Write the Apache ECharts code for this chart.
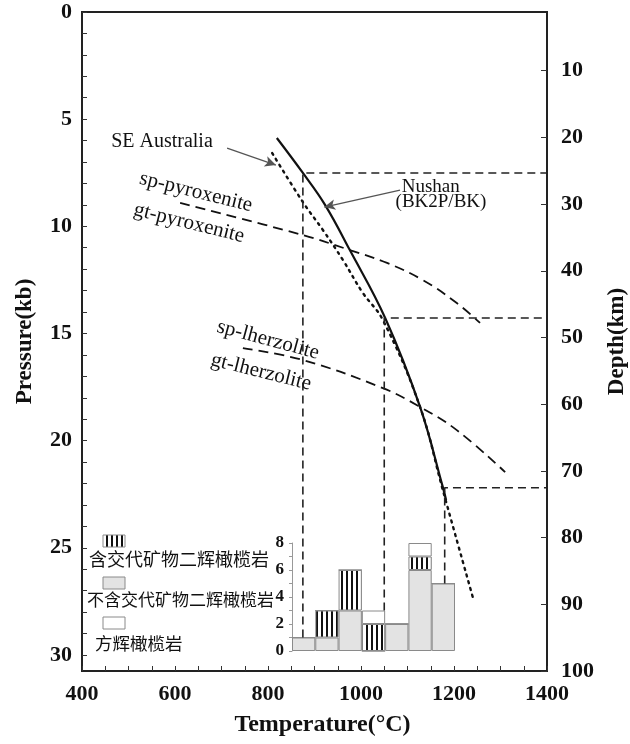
<!DOCTYPE html>
<html>
<head>
<meta charset="utf-8">
<script src="https://cdn.jsdelivr.net/npm/echarts@6/dist/echarts.min.js"></script>
<style>
  html, body { margin: 0; padding: 0; background: #fff; }
  #chart { width: 630px; height: 744px; }
</style>
</head>
<body>
<div id="chart"></div>
<script>
// ---- Geotherms (temperature °C, pressure kb) ----
const nushanT = [819, 875, 923, 976, 1052, 1127, 1176, 1183];
const nushanP = [5.88, 7.51, 9.01, 11.11, 14.28, 18.43, 22.17, 22.77];

const seAusT = [809, 875, 918, 961, 1004, 1047, 1127, 1176, 1241];
const seAusP = [6.58, 8.87, 10.17, 11.57, 13.11, 14.37, 18.43, 22.31, 27.35];

// ---- Phase boundaries ----
const pyroxeniteT = [611, 875, 976, 1056, 1133, 1206, 1256];
const pyroxeniteP = [8.91, 10.41, 11.11, 11.71, 12.51, 13.58, 14.51];

const lherzoliteT = [746, 875, 1047, 1127, 1206, 1310];
const lherzoliteP = [15.68, 16.24, 17.55, 18.43, 19.51, 21.47];

// ---- Xenolith temperature histogram (50 °C bins) ----
const binLabels = ['850-900', '900-950', '950-1000', '1000-1050', '1050-1100', '1100-1150', '1150-1200'];
const rockTypes = ['含交代矿物二辉橄榄岩', '不含交代矿物二辉橄榄岩', '方辉橄榄岩'];
const countMetasomatised = [0, 2, 3, 2, 0, 1, 0];
const countLherzolite    = [1, 1, 3, 0, 2, 6, 5];
const countHarzburgite   = [0, 0, 0, 1, 0, 1, 0];

// ---- Tie lines from the geotherm down to the histogram ----
const tieT = [875, 1050, 1180];
const tieP = [7.51, 14.28, 22.2];
const tieBin = [0, 3, 6];

// ---- Axis tick labels ----
const tempLabels = [400, 600, 800, 1000, 1200, 1400];
const pressureLabels = [0, 5, 10, 15, 20, 25, 30];
const depthLabels = [10, 20, 30, 40, 50, 60, 70, 80, 90, 100];
const countLabels = [0, 2, 4, 6, 8];

// ---- Annotations ----
const curveNames = ['sp-pyroxenite', 'gt-pyroxenite', 'sp-lherzolite', 'gt-lherzolite'];
const curveNameAt = [[645, 8.4], [630, 9.85], [800, 15.3], [785, 16.8]];
const curveNameRot = [-14, -14, -15, -14];

const serif = '"Liberation Serif", "Times New Roman", serif';
const cjk = '"Noto Sans CJK SC", sans-serif';

const range = (a, b, s) => { const r = []; for (let v = a; v <= b + 1e-9; v += s) r.push(v); return r; };
const zip = (xs, ys) => xs.map((x, i) => [x, ys[i]]);
const plain = v => String(v);

function hatchCanvas() {
  const c = document.createElement('canvas');
  c.width = 5; c.height = 4;
  const g = c.getContext('2d');
  g.fillStyle = '#ffffff'; g.fillRect(0, 0, 5, 4);
  g.fillStyle = '#111111'; g.fillRect(1, 0, 2, 4);
  return c;
}
const hatchFill = { image: hatchCanvas(), repeat: 'repeat' };
const grayFill = '#e3e3e3';
const barBorder = '#8a8a8a';

const tickLabelStyle = { fontFamily: serif, fontWeight: 'bold', fontSize: 22, color: '#111', formatter: plain };
const nameStyle = { fontFamily: serif, fontWeight: 'bold', fontSize: 23, color: '#111' };

const chart = echarts.init(document.getElementById('chart'), null, { renderer: 'canvas' });

const option = {
  animation: false,
  backgroundColor: '#fff',
  grid: [
    { left: 82, right: 83, top: 12, bottom: 73, outerBoundsMode: 'none', containLabel: false,
      show: true, borderColor: '#222', borderWidth: 2, backgroundColor: 'transparent' },
    { left: 292, top: 543, width: 163, height: 108, outerBoundsMode: 'none', containLabel: false }
  ],
  xAxis: [
    {
      type: 'value', gridIndex: 0, min: 400, max: 1400, position: 'bottom',
      name: 'Temperature(°C)', nameLocation: 'middle', nameGap: 42,
      nameTextStyle: Object.assign({}, nameStyle, { fontSize: 24, padding: [0, 0, 0, 16] }),
      axisLine: { show: true, onZero: false, lineStyle: { color: '#222', width: 2 } },
      axisTick: { show: true, inside: true, length: 5, customValues: range(400, 1400, 50), lineStyle: { color: '#333', width: 1 } },
      axisLabel: Object.assign({ customValues: tempLabels, margin: 12 }, tickLabelStyle),
      splitLine: { show: false }
    },
    {
      type: 'category', gridIndex: 1, data: binLabels, show: false
    }
  ],
  yAxis: [
    {
      type: 'value', gridIndex: 0, min: 0, max: 30.75, inverse: true, position: 'left',
      name: 'Pressure(kb)', nameLocation: 'middle', nameRotate: 90, nameGap: 45,
      nameTextStyle: nameStyle,
      axisLine: { show: true, onZero: false, lineStyle: { color: '#222', width: 2 } },
      axisTick: { show: true, inside: true, length: 5, customValues: range(0, 30, 1), lineStyle: { color: '#333', width: 1 } },
      axisLabel: Object.assign({ customValues: pressureLabels, margin: 10 }, tickLabelStyle),
      splitLine: { show: false }
    },
    {
      type: 'value', gridIndex: 0, min: 1.2, max: 100, inverse: true, position: 'right',
      name: 'Depth(km)', nameLocation: 'middle', nameRotate: 90, nameGap: 59,
      nameTextStyle: nameStyle,
      axisLine: { show: true, onZero: false, lineStyle: { color: '#222', width: 2 } },
      axisTick: { show: true, inside: true, length: 6, customValues: depthLabels, lineStyle: { color: '#333', width: 1 } },
      axisLabel: Object.assign({ customValues: depthLabels, margin: 14 }, tickLabelStyle),
      splitLine: { show: false }
    },
    {
      type: 'value', gridIndex: 1, min: 0, max: 8, position: 'left',
      axisLine: { show: true, onZero: false, lineStyle: { color: '#999', width: 1 } },
      axisTick: { show: true, length: 3, customValues: range(0, 8, 1), lineStyle: { color: '#999', width: 1 } },
      axisLabel: { customValues: countLabels, margin: 8, fontFamily: serif, fontWeight: 'bold', fontSize: 17, color: '#111', formatter: plain },
      splitLine: { show: false }
    }
  ],
  graphic: [
    { type: 'rect', shape: { x: 103, y: 535, width: 22, height: 12 }, style: { fill: hatchFill, stroke: barBorder, lineWidth: 1 } },
    { type: 'text', x: 89, y: 559, style: { text: rockTypes[0], font: '18px ' + cjk, fill: '#111', textVerticalAlign: 'middle' } },
    { type: 'rect', shape: { x: 103, y: 577, width: 22, height: 12 }, style: { fill: grayFill, stroke: barBorder, lineWidth: 1 } },
    { type: 'text', x: 87, y: 600, style: { text: rockTypes[1], font: '17px ' + cjk, fill: '#111', textVerticalAlign: 'middle' } },
    { type: 'rect', shape: { x: 103, y: 617, width: 22, height: 12 }, style: { fill: '#fff', stroke: barBorder, lineWidth: 1 } },
    { type: 'text', x: 95, y: 643, style: { text: rockTypes[2], font: '17.5px ' + cjk, fill: '#111', textVerticalAlign: 'middle' } }
  ],
  series: [
    {
      id: 'nushan', name: 'Nushan', type: 'line', xAxisIndex: 0, yAxisIndex: 0,
      data: zip(nushanT, nushanP), smooth: 0.4, symbol: 'none',
      lineStyle: { color: '#111', width: 2.2, type: 'solid' }
    },
    {
      id: 'seAus', name: 'SE Australia', type: 'line', xAxisIndex: 0, yAxisIndex: 0,
      data: zip(seAusT, seAusP), smooth: 0.4, symbol: 'none',
      lineStyle: { color: '#111', width: 2.4, type: [2, 5], cap: 'round' }
    },
    {
      id: 'pyroxenite', name: 'pyroxenite', type: 'line', xAxisIndex: 0, yAxisIndex: 0,
      data: zip(pyroxeniteT, pyroxeniteP), smooth: 0.4, symbol: 'none',
      lineStyle: { color: '#111', width: 1.8, type: [10, 6] }
    },
    {
      id: 'lherzolite', name: 'lherzolite', type: 'line', xAxisIndex: 0, yAxisIndex: 0,
      data: zip(lherzoliteT, lherzoliteP), smooth: 0.4, symbol: 'none',
      lineStyle: { color: '#111', width: 1.8, type: [10, 6] }
    },
    {
      id: 'notes', type: 'scatter', xAxisIndex: 0, yAxisIndex: 0, symbolSize: 0, silent: true,
      itemStyle: { color: '#111' },
      data: curveNames.map((n, i) => ({
        name: n, value: curveNameAt[i],
        label: { rotate: curveNameRot[i] }
      })).concat([
        { name: 'SE Australia', value: [572, 6.07], label: { fontSize: 20 } },
        { name: 'Nushan', value: [1150, 8.17], label: { fontSize: 19 } },
        { name: '(BK2P/BK)', value: [1172, 8.87], label: { fontSize: 19 } }
      ]),
      label: {
        show: true, position: 'inside', formatter: '{b}',
        fontFamily: serif, fontSize: 21, color: '#111',
        textBorderWidth: 0, opacity: 1
      },
      markLine: {
        silent: true, symbol: ['none', 'arrow'], symbolSize: [8, 11],
        label: { show: false },
        lineStyle: { color: '#555', width: 1.3, type: 'solid' },
        data: [
          [{ coord: [712, 6.35] }, { coord: [817, 7.14] }],
          [{ coord: [1084, 8.31] }, { coord: [921, 9.1] }]
        ]
      }
    },
    {
      id: 'lherzCount', name: rockTypes[1], type: 'bar', xAxisIndex: 1, yAxisIndex: 2, stack: 'rock',
      barWidth: '100%', barCategoryGap: '0%',
      data: countLherzolite,
      itemStyle: { color: grayFill, borderColor: barBorder, borderWidth: 1 }
    },
    {
      id: 'metaCount', name: rockTypes[0], type: 'bar', xAxisIndex: 1, yAxisIndex: 2, stack: 'rock',
      barWidth: '100%',
      data: countMetasomatised,
      itemStyle: { color: hatchFill, borderColor: barBorder, borderWidth: 1 }
    },
    {
      id: 'harzCount', name: rockTypes[2], type: 'bar', xAxisIndex: 1, yAxisIndex: 2, stack: 'rock',
      barWidth: '100%',
      data: countHarzburgite,
      itemStyle: { color: '#fff', borderColor: barBorder, borderWidth: 1 }
    }
  ]
};

chart.setOption(option);

// Tie lines: run from the histogram bar top up to the geotherm, then across to the depth axis.
const tieSeries = tieT.map((t, i) => {
  const b = tieBin[i];
  const top = countLherzolite[b] + countMetasomatised[b] + countHarzburgite[b];
  const px = chart.convertToPixel({ gridIndex: 1 }, [b, top]);
  const pBottom = chart.convertFromPixel({ gridIndex: 0 }, [0, px[1]])[1];
  return {
    id: 'tie' + i, type: 'line', xAxisIndex: 0, yAxisIndex: 0, symbol: 'none', silent: true,
    data: [[t, pBottom], [t, tieP[i]], [1400, tieP[i]]],
    lineStyle: { color: '#222', width: 1.6, type: [8, 5] }
  };
});
chart.setOption({ series: tieSeries });
</script>
</body>
</html>
